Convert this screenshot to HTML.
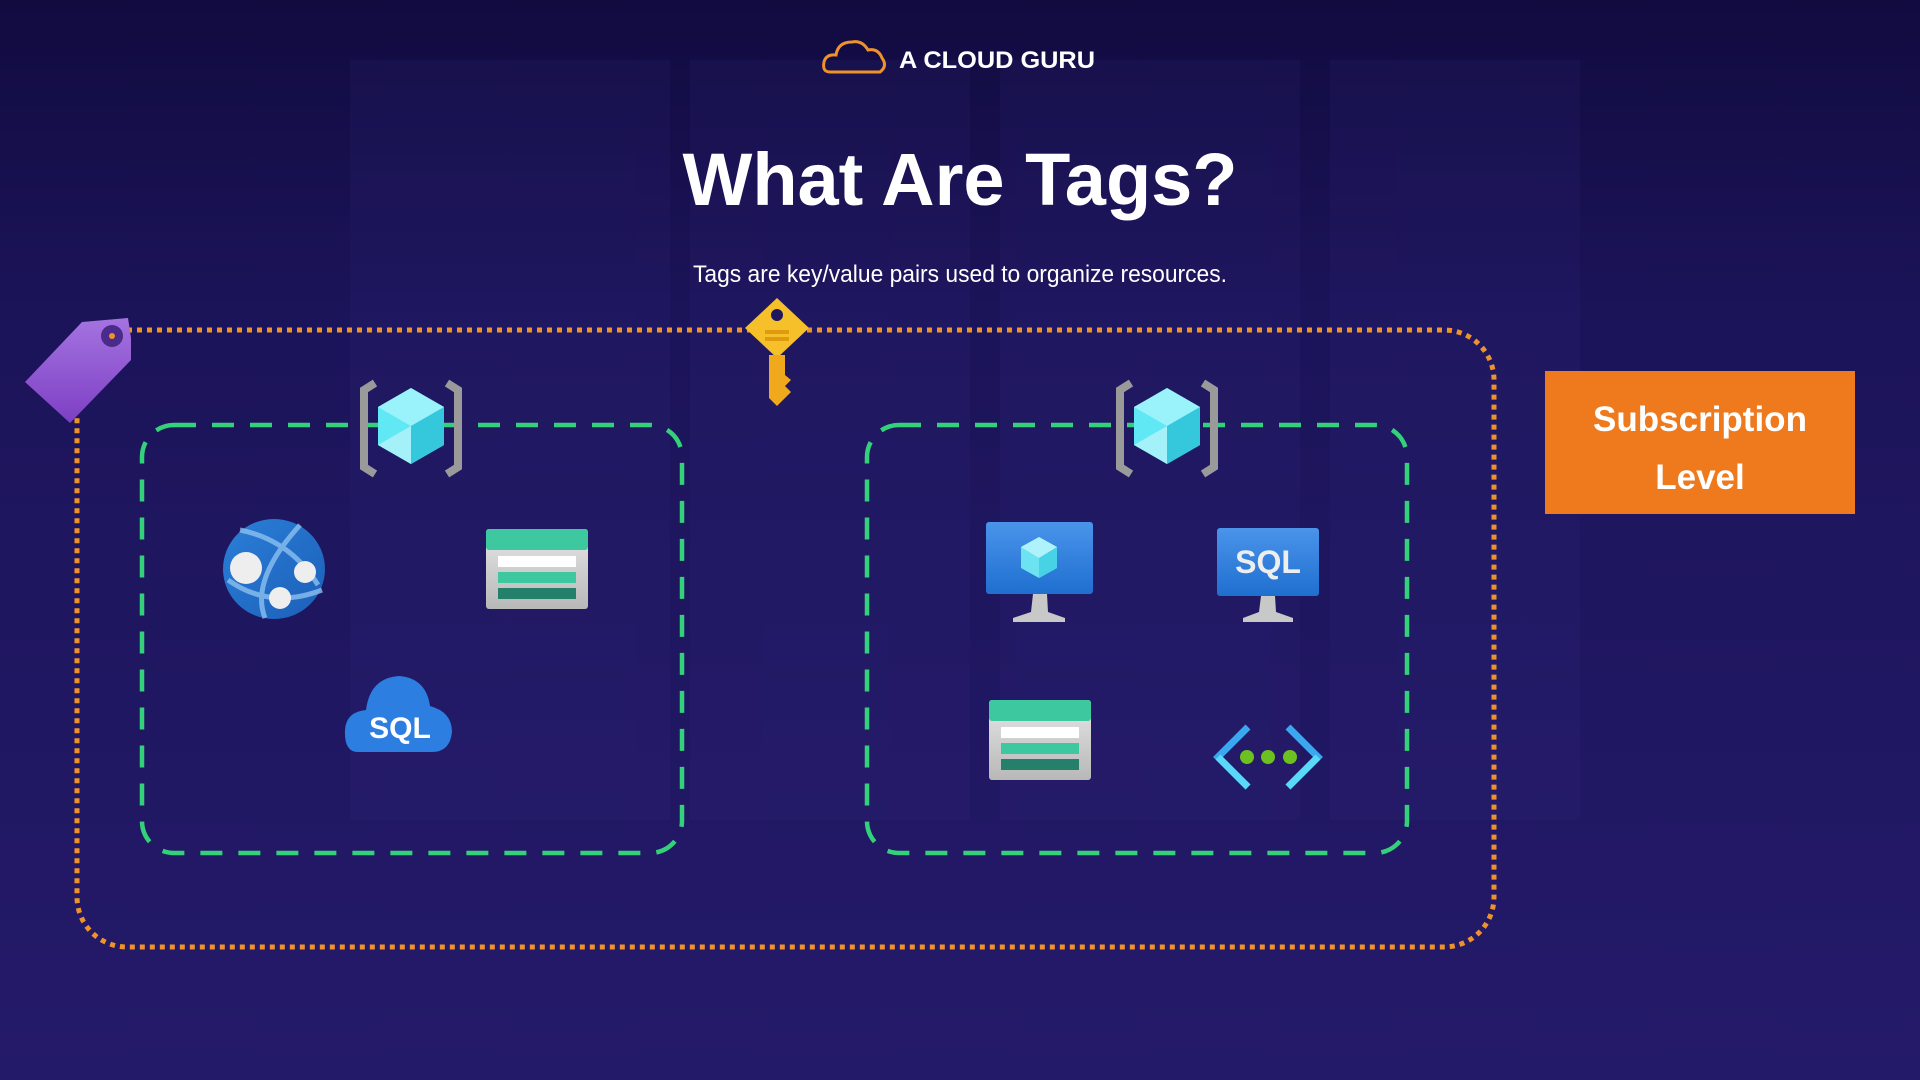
<!DOCTYPE html>
<html><head><meta charset="utf-8"><style>
html,body{margin:0;padding:0;width:1920px;height:1080px;overflow:hidden;background:#1e1660;}
svg{display:block}
</style></head><body>
<svg width="1920" height="1080" viewBox="0 0 1920 1080" xmlns="http://www.w3.org/2000/svg">
<defs>
<linearGradient id="bg" x1="0" y1="0" x2="0" y2="1">
<stop offset="0" stop-color="#110b40"/><stop offset="0.3" stop-color="#1c145a"/><stop offset="1" stop-color="#241a6a"/>
</linearGradient>
<linearGradient id="scr" x1="0" y1="0" x2="0" y2="1"><stop offset="0" stop-color="#4a94ea"/><stop offset="1" stop-color="#1f6fd0"/></linearGradient>
<linearGradient id="glb" x1="0" y1="0" x2="1" y2="1"><stop offset="0" stop-color="#2b7fd8"/><stop offset="1" stop-color="#1b5fb8"/></linearGradient>
<linearGradient id="tag" x1="0" y1="0" x2="0" y2="1"><stop offset="0" stop-color="#a573e0"/><stop offset="1" stop-color="#7d3fc4"/></linearGradient>
<linearGradient id="gray" x1="0" y1="0" x2="0" y2="1"><stop offset="0" stop-color="#e6e6e6"/><stop offset="1" stop-color="#b8b8b8"/></linearGradient>
</defs>
<rect width="1920" height="1080" fill="url(#bg)"/>
<g opacity="0.12" fill="#3a2e88">
<rect x="350" y="60" width="320" height="760"/><rect x="690" y="60" width="280" height="760"/><rect x="1000" y="60" width="300" height="760"/><rect x="1330" y="60" width="250" height="760"/>
</g>

<!-- logo -->
<g fill="none" stroke="#f0922a" stroke-width="3">
<path d="M830 72 Q822 72 824 62 Q826 54 836 55 Q838 42 852 42 Q862 40 868 50 Q878 48 882 58 Q888 66 880 72 Z"/>
</g>
<text x="899" y="68" font-family="Liberation Sans, sans-serif" font-weight="bold" font-size="24" fill="#fff" textLength="196" lengthAdjust="spacingAndGlyphs">A CLOUD GURU</text>

<text x="960" y="205" text-anchor="middle" font-family="Liberation Sans, sans-serif" font-weight="bold" font-size="74" fill="#fff">What Are Tags?</text>
<text x="960" y="282" text-anchor="middle" font-family="Liberation Sans, sans-serif" font-size="24" fill="#fff" textLength="534" lengthAdjust="spacingAndGlyphs">Tags are key/value pairs used to organize resources.</text>

<!-- orange dotted -->
<rect x="77" y="330" width="1417" height="617" rx="50" fill="none" stroke="#f0922a" stroke-width="5" stroke-dasharray="5 5"/>
<!-- green dashed -->
<rect x="142" y="425" width="540" height="428" rx="32" fill="none" stroke="#33d17a" stroke-width="4.5" stroke-dasharray="22 16"/>
<rect x="867" y="425" width="540" height="428" rx="32" fill="none" stroke="#33d17a" stroke-width="4.5" stroke-dasharray="22 16"/>

<!-- tag -->
<path d="M25 382 L82 322 L128 318 L131 338 L131 360 L70 423 Z" fill="url(#tag)"/>
<circle cx="112" cy="336" r="11" fill="#4a2a8a"/><circle cx="112" cy="336" r="3" fill="#f0922a"/>

<!-- key -->
<path d="M777 298 L809 328 L777 358 L745 328 Z" fill="#f5c02a"/>
<circle cx="777" cy="315" r="6" fill="#1e1660"/>
<rect x="765" y="330" width="24" height="4" fill="#e09a10"/><rect x="765" y="337" width="24" height="4" fill="#e09a10"/>
<path d="M769 355 L785 355 L785 375 L791 380 L785 386 L791 392 L785 398 L777 406 L769 398 Z" fill="#f0a81c"/>

<!-- bracket cubes -->
<g id="bc">
<path d="M375 383 L364 390 L364 467 L375 474" fill="none" stroke="#9a9a9a" stroke-width="8"/>
<path d="M447 383 L458 390 L458 467 L447 474" fill="none" stroke="#9a9a9a" stroke-width="8"/>
<path d="M411 388 L444 407 L444 445 L411 464 L378 445 L378 407 Z" fill="#60e8f5"/>
<path d="M411 388 L444 407 L411 426 L378 407 Z" fill="#9af3fb"/>
<path d="M411 426 L444 407 L444 445 L411 464 Z" fill="#35c8dc"/>
<path d="M378 445 L411 426 L411 464 Z" fill="#a5f1fa"/>
</g>
<use href="#bc" x="756"/>

<!-- globe -->
<ellipse cx="274" cy="569" rx="51" ry="50" fill="url(#glb)"/>
<path d="M240 530 Q290 540 318 585 M300 525 Q250 580 265 618 M228 580 Q270 610 322 590" fill="none" stroke="#8cc0f0" stroke-width="5" opacity="0.8"/>
<circle cx="246" cy="568" r="16" fill="#eee"/><circle cx="305" cy="572" r="11" fill="#eee"/><circle cx="280" cy="598" r="11" fill="#eee"/>

<!-- storage left -->
<g id="st">
<rect x="486" y="529" width="102" height="80" rx="3" fill="url(#gray)"/>
<rect x="486" y="529" width="102" height="21" rx="3" fill="#3ec8a0"/>
<rect x="498" y="556" width="78" height="11" fill="#fff"/>
<rect x="498" y="572" width="78" height="11" fill="#3ec8a0"/>
<rect x="498" y="588" width="78" height="11" fill="#24806a"/>
</g>
<use href="#st" x="503" y="171"/>

<!-- SQL cloud -->
<path d="M358 752 Q344 752 345 730 Q346 712 366 710 Q370 678 399 676 Q426 678 430 706 Q452 712 452 732 Q450 752 432 752 Z" fill="#2c7ee0"/>
<text x="400" y="738" text-anchor="middle" font-family="Liberation Sans, sans-serif" font-weight="bold" font-size="30" fill="#fff">SQL</text>

<!-- VM monitor -->
<rect x="986" y="522" width="107" height="72" rx="3" fill="url(#scr)"/>
<path d="M1033 594 L1047 594 L1048 612 L1065 618 L1065 622 L1013 622 L1013 618 L1031 612 Z" fill="#c8c8c8"/>
<path d="M1039 537 L1057 547 L1057 568 L1039 578 L1021 568 L1021 547 Z" fill="#6de3f2"/>
<path d="M1039 537 L1057 547 L1039 558 L1021 547 Z" fill="#b0f2fb"/>
<path d="M1039 558 L1057 547 L1057 568 L1039 578 Z" fill="#48d2e6"/>

<!-- SQL monitor -->
<rect x="1217" y="528" width="102" height="68" rx="3" fill="url(#scr)"/>
<path d="M1261 596 L1275 596 L1276 612 L1293 618 L1293 622 L1243 622 L1243 618 L1259 612 Z" fill="#c8c8c8"/>
<text x="1268" y="573" text-anchor="middle" font-family="Liberation Sans, sans-serif" font-weight="bold" font-size="32" fill="#eee">SQL</text>

<!-- code icon -->
<path d="M1248 727 L1218 757 L1248 787" fill="none" stroke="#3aa8f0" stroke-width="7"/>
<path d="M1288 727 L1318 757 L1288 787" fill="none" stroke="#3aa8f0" stroke-width="7"/>
<path d="M1218 757 L1248 787 M1318 757 L1288 787" stroke="#5ad8f8" stroke-width="7"/>
<circle cx="1247" cy="757" r="7" fill="#6cc020"/><circle cx="1268" cy="757" r="7" fill="#6cc020"/><circle cx="1290" cy="757" r="7" fill="#6cc020"/>

<!-- subscription box -->
<rect x="1545" y="371" width="310" height="143" fill="#ef7a1e"/>
<text x="1700" y="431" text-anchor="middle" font-family="Liberation Sans, sans-serif" font-weight="bold" font-size="35" fill="#fff">Subscription</text>
<text x="1700" y="489" text-anchor="middle" font-family="Liberation Sans, sans-serif" font-weight="bold" font-size="35" fill="#fff">Level</text>
</svg>
</body></html>
